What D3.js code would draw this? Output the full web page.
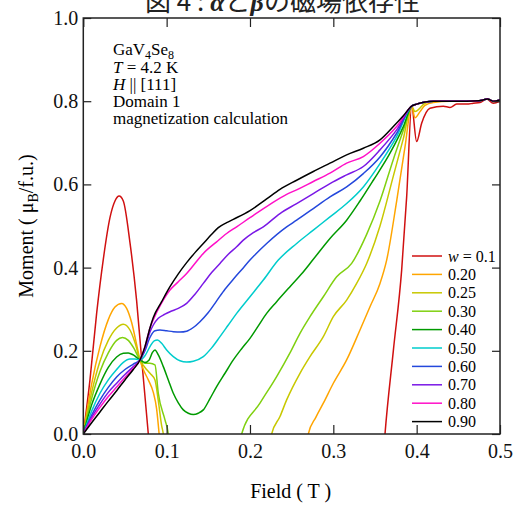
<!DOCTYPE html>
<html>
<head>
<meta charset="utf-8">
<script src="https://cdn.jsdelivr.net/npm/d3@7"></script>
<style>
  body { margin: 0; background: #fff; }
  text { font-family: "Liberation Serif", "Times New Roman", serif; }
</style>
</head>
<body>
<div id="vis"></div>
<script>
// tick values
var xTicks = [0, 0.1, 0.2, 0.3, 0.4, 0.5];
var yTicks = [0, 0.2, 0.4, 0.6, 0.8, 1.0];

// legend labels and colours (one per w)
var wLabels = ["0.1", "0.20", "0.25", "0.30", "0.40", "0.50", "0.60", "0.70", "0.80", "0.90"];
var wColors = ["#d01010", "#ffa500", "#c8c800", "#80d010", "#009a00", "#00cccc", "#2448dc", "#7a18e6", "#ff10c8", "#000000"];

// shared plateau above saturation
var plateau = [[0.40, 0.793], [0.41, 0.798], [0.42, 0.800], [0.44, 0.800], [0.46, 0.800],
  [0.475, 0.801], [0.485, 0.805], [0.492, 0.800], [0.50, 0.803]];

// [field (T), moment (muB/f.u.)]
var w010 = [[0, 0], [0.008, 0.13], [0.016, 0.29], [0.024, 0.42], [0.032, 0.52], [0.038, 0.56],
  [0.043, 0.572], [0.048, 0.56], [0.056, 0.46], [0.064, 0.32], [0.070, 0.18], [0.078, 0.0],
  [0.086, -0.2], [0.355, -0.2], [0.362, 0.0], [0.372, 0.2], [0.382, 0.394], [0.388, 0.57],
  [0.394, 0.788], [0.400, 0.703], [0.406, 0.747], [0.416, 0.783], [0.432, 0.788], [0.440, 0.785],
  [0.448, 0.793], [0.460, 0.793], [0.468, 0.795], [0.476, 0.797], [0.484, 0.805], [0.492, 0.795],
  [0.50, 0.80]];

var w020 = [[0, 0], [0.01, 0.12], [0.02, 0.21], [0.03, 0.275], [0.038, 0.305], [0.046, 0.314],
  [0.052, 0.302], [0.058, 0.268], [0.064, 0.215], [0.068, 0.178], [0.072, 0.155], [0.078, 0.13],
  [0.084, 0.10], [0.088, 0.06], [0.091, 0.0], [0.095, -0.1], [0.265, -0.1], [0.270, 0.0],
  [0.279, 0.04], [0.288, 0.074], [0.300, 0.122], [0.316, 0.178], [0.332, 0.25], [0.344, 0.306],
  [0.356, 0.362], [0.364, 0.418], [0.376, 0.56], [0.386, 0.69], [0.394, 0.788], [0.398, 0.76],
  [0.404, 0.775], [0.41, 0.79], [0.42, 0.797], [0.44, 0.80], [0.46, 0.80], [0.475, 0.801],
  [0.485, 0.805], [0.492, 0.80], [0.50, 0.803]];

var w025 = [[0, 0], [0.01, 0.10], [0.02, 0.175], [0.03, 0.225], [0.04, 0.255], [0.048, 0.264],
  [0.056, 0.25], [0.062, 0.22], [0.068, 0.178], [0.074, 0.16], [0.080, 0.146], [0.086, 0.13],
  [0.090, 0.08], [0.094, 0.02], [0.096, 0.0], [0.10, -0.1], [0.22, -0.1], [0.226, 0.0],
  [0.236, 0.042], [0.244, 0.082], [0.260, 0.146], [0.272, 0.186], [0.288, 0.234], [0.300, 0.282],
  [0.316, 0.322], [0.328, 0.362], [0.340, 0.41], [0.356, 0.50], [0.372, 0.62], [0.384, 0.71],
  [0.394, 0.788], [0.398, 0.775], [0.41, 0.795], [0.42, 0.80], [0.44, 0.80], [0.46, 0.80],
  [0.475, 0.801], [0.485, 0.805], [0.492, 0.80], [0.50, 0.803]];

var w030 = [[0, 0], [0.01, 0.085], [0.02, 0.15], [0.03, 0.195], [0.04, 0.225], [0.047, 0.232],
  [0.054, 0.225], [0.061, 0.205], [0.068, 0.178], [0.074, 0.17], [0.080, 0.17], [0.086, 0.166],
  [0.090, 0.098], [0.098, 0.034], [0.102, 0.0], [0.106, -0.1], [0.185, -0.1], [0.190, 0.0],
  [0.212, 0.074], [0.232, 0.138], [0.248, 0.195], [0.260, 0.242], [0.272, 0.282], [0.288, 0.33],
  [0.304, 0.378], [0.322, 0.41], [0.340, 0.48], [0.356, 0.56], [0.372, 0.66], [0.384, 0.73],
  [0.394, 0.788]].concat(plateau);

var w040 = [[0, 0], [0.01, 0.07], [0.02, 0.12], [0.03, 0.16], [0.04, 0.185], [0.048, 0.194],
  [0.054, 0.195], [0.060, 0.19], [0.068, 0.178], [0.074, 0.172], [0.079, 0.178], [0.083, 0.196],
  [0.086, 0.202], [0.090, 0.19], [0.096, 0.162], [0.102, 0.13], [0.108, 0.098], [0.114, 0.075],
  [0.120, 0.058], [0.126, 0.05], [0.132, 0.047], [0.138, 0.05], [0.144, 0.058], [0.152, 0.085],
  [0.160, 0.114], [0.170, 0.146], [0.180, 0.178], [0.190, 0.205], [0.200, 0.23], [0.210, 0.26],
  [0.220, 0.29], [0.232, 0.318], [0.248, 0.354], [0.262, 0.385], [0.276, 0.42], [0.296, 0.47],
  [0.316, 0.514], [0.332, 0.56], [0.348, 0.61], [0.368, 0.675], [0.384, 0.739],
  [0.394, 0.788]].concat(plateau);

var w050 = [[0, 0], [0.01, 0.055], [0.02, 0.098], [0.03, 0.13], [0.04, 0.155], [0.048, 0.172],
  [0.056, 0.18], [0.062, 0.18], [0.068, 0.178], [0.074, 0.188], [0.080, 0.21], [0.085, 0.224],
  [0.089, 0.226], [0.094, 0.218], [0.100, 0.202], [0.108, 0.186], [0.116, 0.176], [0.124, 0.173],
  [0.132, 0.175], [0.144, 0.186], [0.154, 0.207], [0.164, 0.234], [0.174, 0.262], [0.184, 0.29],
  [0.200, 0.33], [0.216, 0.37], [0.234, 0.418], [0.256, 0.458], [0.276, 0.49], [0.296, 0.522],
  [0.316, 0.554], [0.336, 0.594], [0.356, 0.65], [0.376, 0.715], [0.394, 0.788]].concat(plateau);

var w060 = [[0, 0], [0.01, 0.045], [0.02, 0.082], [0.03, 0.112], [0.04, 0.137], [0.05, 0.155],
  [0.06, 0.168], [0.068, 0.178], [0.074, 0.2], [0.080, 0.232], [0.086, 0.248], [0.092, 0.25],
  [0.100, 0.248], [0.108, 0.246], [0.116, 0.245], [0.124, 0.247], [0.132, 0.256], [0.140, 0.27],
  [0.150, 0.292], [0.160, 0.32], [0.170, 0.348], [0.180, 0.372], [0.190, 0.395], [0.200, 0.418],
  [0.220, 0.458], [0.244, 0.498], [0.256, 0.514], [0.276, 0.542], [0.296, 0.57], [0.316, 0.594],
  [0.336, 0.626], [0.356, 0.666], [0.376, 0.723], [0.394, 0.788]].concat(plateau);

var w070 = [[0, 0], [0.01, 0.04], [0.02, 0.072], [0.03, 0.1], [0.04, 0.122], [0.05, 0.143],
  [0.06, 0.162], [0.068, 0.178], [0.074, 0.205], [0.080, 0.245], [0.084, 0.262], [0.090, 0.278],
  [0.098, 0.288], [0.104, 0.294], [0.114, 0.302], [0.124, 0.314], [0.134, 0.336], [0.144, 0.362],
  [0.154, 0.388], [0.164, 0.41], [0.174, 0.432], [0.184, 0.45], [0.192, 0.466], [0.204, 0.484],
  [0.216, 0.498], [0.236, 0.53], [0.256, 0.554], [0.276, 0.578], [0.296, 0.602], [0.316, 0.623],
  [0.336, 0.643], [0.356, 0.683], [0.376, 0.731], [0.394, 0.788]].concat(plateau);

var w080 = [[0, 0], [0.01, 0.035], [0.02, 0.064], [0.03, 0.09], [0.04, 0.113], [0.05, 0.136],
  [0.06, 0.158], [0.068, 0.178], [0.074, 0.21], [0.080, 0.255], [0.084, 0.275], [0.094, 0.315],
  [0.104, 0.346], [0.114, 0.366], [0.124, 0.386], [0.132, 0.405], [0.144, 0.434], [0.160, 0.462],
  [0.172, 0.482], [0.184, 0.498], [0.200, 0.52], [0.224, 0.552], [0.244, 0.576], [0.256, 0.587],
  [0.276, 0.607], [0.296, 0.627], [0.316, 0.651], [0.336, 0.667], [0.356, 0.699], [0.376, 0.739],
  [0.394, 0.788]].concat(plateau);

var w090 = [[0, 0], [0.01, 0.027], [0.02, 0.053], [0.03, 0.079], [0.04, 0.104], [0.05, 0.13],
  [0.06, 0.155], [0.068, 0.178], [0.074, 0.21], [0.080, 0.255], [0.084, 0.28], [0.094, 0.318],
  [0.104, 0.354], [0.114, 0.385], [0.124, 0.412], [0.134, 0.436], [0.144, 0.458], [0.154, 0.48],
  [0.162, 0.496], [0.172, 0.508], [0.180, 0.516], [0.200, 0.537], [0.220, 0.565], [0.236, 0.588],
  [0.256, 0.61], [0.276, 0.631], [0.296, 0.651], [0.316, 0.671], [0.336, 0.687], [0.356, 0.707],
  [0.372, 0.739], [0.384, 0.765], [0.394, 0.788]].concat(plateau);

var series = [w010, w020, w025, w030, w040, w050, w060, w070, w080, w090];

var margin = { top: 18, right: 16, bottom: 71, left: 83.3 },
    width = 516 - margin.left - margin.right,
    height = 505 - margin.top - margin.bottom;

var root = d3.select("#vis")
    .append("svg")
    .attr("width", 516)
    .attr("height", 505);

var svg = root.append("g")
    .attr("transform", "translate(" + margin.left + "," + margin.top + ")");

var x = d3.scaleLinear().domain([0, 0.5]).range([0, width]);
var y = d3.scaleLinear().domain([0, 1]).range([height, 0]);

svg.append("clipPath")
    .attr("id", "plotClip")
    .append("rect")
    .attr("width", width)
    .attr("height", height);

// curves
var line = d3.line()
    .x(d => x(d[0]))
    .y(d => y(d[1]))
    .curve(d3.curveMonotoneX);

svg.append("g")
    .attr("clip-path", "url(#plotClip)")
    .selectAll(".curve")
    .data(series)
    .enter()
    .append("path")
    .attr("class", "curve")
    .attr("d", line)
    .attr("fill", "none")
    .attr("stroke", (d, i) => wColors[i])
    .attr("stroke-width", 1.5);

// axes, ticks pointing inward
var fmt = d3.format(".1f");
function styleAxis(g) {
    g.select(".domain").remove();
    g.selectAll("line").attr("stroke", "#222").attr("stroke-width", 1.2);
    g.selectAll("text")
        .attr("fill", "#111")
        .style("font-family", "'Liberation Serif', serif")
        .style("font-size", "20px");
}

svg.append("g")
    .attr("transform", "translate(0," + height + ")")
    .call(d3.axisBottom(x).tickValues(xTicks).tickFormat(fmt).tickSizeInner(-9).tickSizeOuter(0).tickPadding(10))
    .call(styleAxis);

svg.append("g")
    .call(d3.axisLeft(y).tickValues(yTicks).tickFormat(fmt).tickSizeInner(-8).tickSizeOuter(0).tickPadding(5))
    .call(styleAxis);

svg.append("g")
    .call(d3.axisTop(x).tickValues(xTicks).tickFormat("").tickSizeInner(-9).tickSizeOuter(0))
    .call(styleAxis);

svg.append("g")
    .attr("transform", "translate(" + width + ",0)")
    .call(d3.axisRight(y).tickValues(yTicks).tickFormat("").tickSizeInner(-8).tickSizeOuter(0))
    .call(styleAxis);

svg.append("rect")
    .attr("width", width)
    .attr("height", height)
    .attr("fill", "none")
    .attr("stroke", "#222")
    .attr("stroke-width", 1.5);

// axis titles
svg.append("text")
    .attr("x", width / 2 - 1)
    .attr("y", height + 64)
    .attr("text-anchor", "middle")
    .style("font-size", "20px")
    .text("Field ( T )");

var yl = svg.append("text")
    .attr("transform", "translate(" + (-50) + "," + (height / 2) + ") rotate(-90)")
    .attr("text-anchor", "middle")
    .style("font-size", "20px");
yl.append("tspan").text("Moment ( \u03bc");
yl.append("tspan").attr("dy", 5).style("font-size", "14px").text("B");
yl.append("tspan").attr("dy", -5).text("/f.u.)");

// annotation
var notes = svg.append("g")
    .attr("transform", "translate(" + (113 - margin.left) + ",0)")
    .style("font-size", "17px");
var t1 = notes.append("text").attr("y", 37);
t1.append("tspan").text("GaV");
t1.append("tspan").attr("dy", 4).style("font-size", "12px").text("4");
t1.append("tspan").attr("dy", -4).text("Se");
t1.append("tspan").attr("dy", 4).style("font-size", "12px").text("8");
var t2 = notes.append("text").attr("y", 55);
t2.append("tspan").style("font-style", "italic").text("T");
t2.append("tspan").text(" = 4.2 K");
var t3 = notes.append("text").attr("y", 72);
t3.append("tspan").style("font-style", "italic").text("H");
t3.append("tspan").text(" || [111]");
notes.append("text").attr("y", 89).text("Domain 1");
notes.append("text").attr("y", 106).text("magnetization calculation");

// legend
var legend = svg.append("g")
    .attr("transform", "translate(" + (412 - margin.left) + "," + (256 - margin.top) + ")");
var rows = legend.selectAll(".row")
    .data(wLabels)
    .enter()
    .append("g")
    .attr("class", "row")
    .attr("transform", (d, i) => "translate(0," + (i * 18.4) + ")");
rows.append("line")
    .attr("x1", 0).attr("x2", 30)
    .attr("stroke", (d, i) => wColors[i])
    .attr("stroke-width", 1.5);
rows.append("text")
    .attr("x", 36)
    .attr("y", 5.5)
    .style("font-size", "16px")
    .each(function (d, i) {
        var t = d3.select(this);
        if (i === 0) {
            t.append("tspan").style("font-style", "italic").text("w");
            t.append("tspan").text(" = " + d);
        } else {
            t.text(d);
        }
    });

// title, clipped at the top of the page
var title = root.append("text")
    .attr("x", 145)
    .attr("y", 11)
    .style("font-family", "'Noto Sans CJK JP', sans-serif")
    .style("font-size", "26px")
    .attr("fill", "#222");
title.append("tspan").text("図 4 : ");
title.append("tspan").style("font-family", "'Liberation Serif', serif").style("font-style", "italic").style("font-weight", "bold").text("\u03b1");
title.append("tspan").text("と");
title.append("tspan").style("font-family", "'Liberation Serif', serif").style("font-style", "italic").style("font-weight", "bold").text("\u03b2");
title.append("tspan").text("の磁場依存性");
</script>
</body>
</html>
